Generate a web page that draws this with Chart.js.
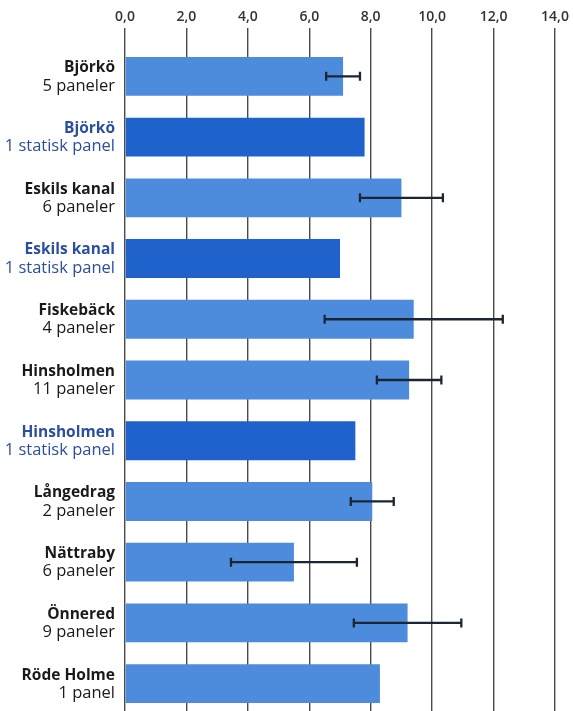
<!DOCTYPE html>
<html>
<head>
<meta charset="utf-8">
<script src="https://cdn.jsdelivr.net/npm/chart.js@4.4.0/dist/chart.umd.min.js"></script>
<style>
html,body{margin:0;padding:0;background:#fff;overflow:hidden;}
#wrap{width:573px;height:711px;overflow:hidden;}
</style>
</head>
<body>
<div id="wrap"><canvas id="c" width="573" height="714"></canvas></div>
<script>
const siteNames = ['Björkö','Björkö','Eskils kanal','Eskils kanal','Fiskebäck','Hinsholmen','Hinsholmen','Långedrag','Nättraby','Önnered','Röde Holme'];
const panelLabels = ['5 paneler','1 statisk panel','6 paneler','1 statisk panel','4 paneler','11 paneler','1 statisk panel','2 paneler','6 paneler','9 paneler','1 panel'];
const isStatic = [false,true,false,true,false,false,true,false,false,false,false];
const values = [7.1, 7.8, 9.0, 7.0, 9.4, 9.25, 7.5, 8.05, 5.5, 9.2, 8.3];
const errors = [0.55, null, 1.35, null, 2.9, 1.05, null, 0.7, 2.05, 1.75, null];
const tickValues = [0,2,4,6,8,10,12,14];
const tickLabels = ['0,0','2,0','4,0','6,0','8,0','10,0','12,0','14,0'];

const LIGHT = '#4d8cdc';
const DARK = '#1f62cb';
const BLUE_TEXT = '#2b4f9e';

const labelPlugin = {
  id: 'twoLineLabels',
  afterDraw(chart) {
    const ctx = chart.ctx;
    const y = chart.scales.y, x = chart.scales.x;
    ctx.save();
    ctx.textAlign = 'right';
    ctx.textBaseline = 'middle';
    siteNames.forEach((name, i) => {
      const py = y.getPixelForTick(i);
      ctx.fillStyle = isStatic[i] ? BLUE_TEXT : '#1a1a1a';
      ctx.font = 'bold 15.5px "Open Sans", sans-serif';
      ctx.fillText(name, 115, py - 8.5);
      ctx.font = '16.5px "Open Sans", sans-serif';
      ctx.fillText(panelLabels[i], 115, py + 9.5);
    });
    ctx.textAlign = 'center';
    ctx.fillStyle = '#333';
    ctx.font = '600 14px "Open Sans", sans-serif';
    tickValues.forEach((v, i) => {
      ctx.fillText(tickLabels[i], x.getPixelForValue(v), 17);
    });
    ctx.restore();
  }
};

const errorPlugin = {
  id: 'errorBars',
  afterDatasetsDraw(chart) {
    const ctx = chart.ctx;
    const x = chart.scales.x, y = chart.scales.y;
    ctx.save();
    ctx.strokeStyle = '#1c2633';
    ctx.lineWidth = 2.3;
    values.forEach((v, i) => {
      const e = errors[i];
      if (e == null) return;
      const py = y.getPixelForTick(i);
      const x1 = x.getPixelForValue(v - e), x2 = x.getPixelForValue(v + e);
      ctx.beginPath();
      ctx.moveTo(x1, py); ctx.lineTo(x2, py);
      ctx.moveTo(x1, py - 4.5); ctx.lineTo(x1, py + 4.5);
      ctx.moveTo(x2, py - 4.5); ctx.lineTo(x2, py + 4.5);
      ctx.stroke();
    });
    ctx.restore();
  }
};

new Chart(document.getElementById('c'), {
  type: 'bar',
  data: {
    labels: siteNames.map((n, i) => [n, panelLabels[i]]),
    datasets: [{
      data: values,
      backgroundColor: isStatic.map(s => s ? DARK : LIGHT),
      borderWidth: 0,
      barPercentage: 0.64,
      categoryPercentage: 1.0
    }]
  },
  options: {
    indexAxis: 'y',
    responsive: false,
    animation: false,
    devicePixelRatio: 1,
    layout: { padding: { top: 0, right: 18, bottom: 0, left: 0 } },
    plugins: { legend: { display: false }, tooltip: { enabled: false }, title: { display: false } },
    scales: {
      x: {
        position: 'top',
        min: 0, max: 14,
        afterBuildTicks(scale) { scale.ticks = tickValues.map(v => ({ value: v })); },
        afterFit(scale) { scale.height = 46; },
        grid: { color: '#4a4a4a', lineWidth: 1.4, tickLength: 18, drawOnChartArea: true, drawTicks: true },
        border: { display: false },
        ticks: { display: false }
      },
      y: {
        afterFit(scale) { scale.width = 125; },
        grid: { display: false, drawTicks: false },
        border: { display: false },
        ticks: { display: false }
      }
    }
  },
  plugins: [labelPlugin, errorPlugin]
});
</script>
</body>
</html>
